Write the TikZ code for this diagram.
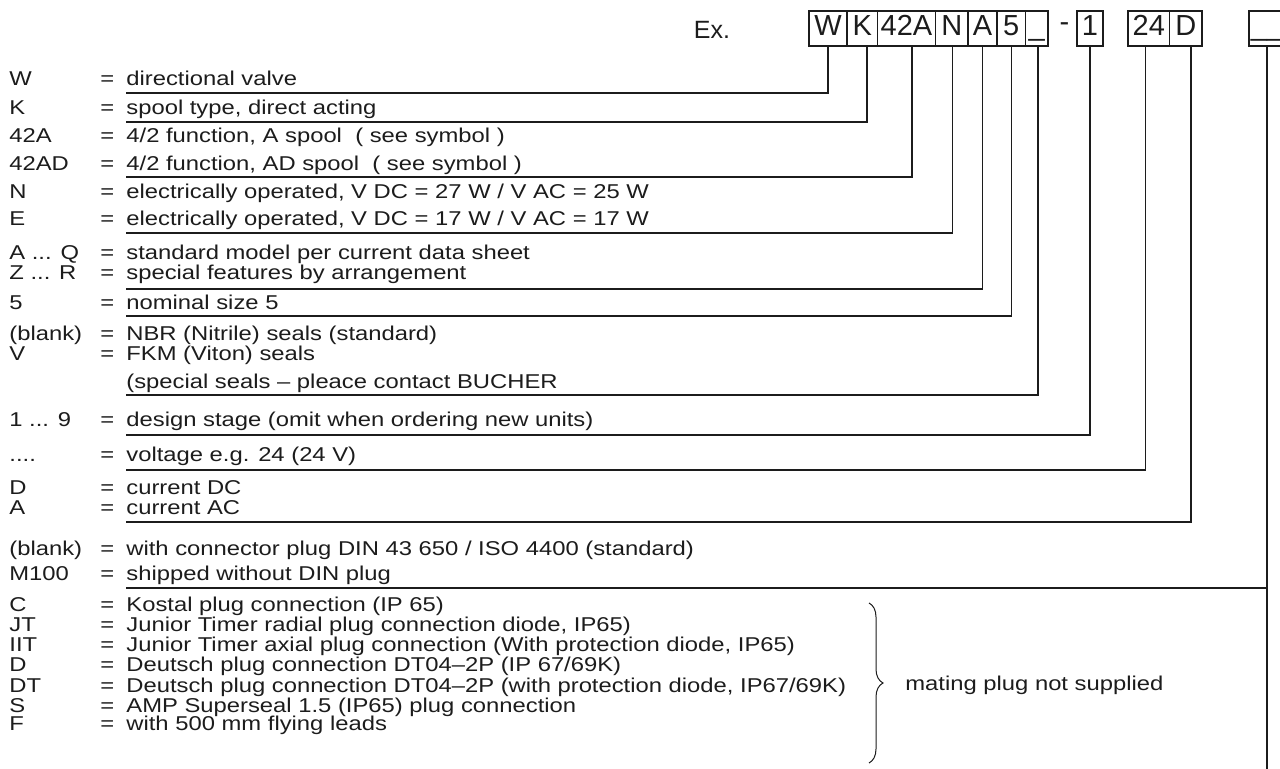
\documentclass[tikz,border=0pt]{standalone}
\usepackage{fontspec}
\setmainfont{Liberation Sans}
\newfontfamily\widesans{Liberation Sans}[FakeStretch=1.19]
\usepackage{xcolor}
\usepackage{tikz}
\usetikzlibrary{positioning,decorations.pathreplacing}
\definecolor{ink}{HTML}{1C1C1C}
\tikzset{
  key/.style={anchor=base west, inner sep=0pt, text=ink,
              font=\widesans\fontsize{10}{12}\selectfont},
  desc/.style={key},
  cell/.style={rectangle, draw=ink, line width=0.6pt, inner sep=0pt, outer sep=0pt,
               minimum height=17.5pt, text height=10.5pt, text depth=3.5pt,
               text=ink, font=\fontsize{14.5}{16}\selectfont},
  lead/.style={draw=ink, line width=0.6pt},
  brc/.style={draw=ink, line width=0.5pt, decorate, decoration={brace, amplitude=7pt}}
}
\newcommand{\entry}[4]{%
  \node[key] (#1k) at (9,#2) {#3};
  \node[key] (#1e) at (100,#2) {=};
  \node[desc] (#1) at (126,#2) {#4};}

\begin{document}
\begin{tikzpicture}[x=0.5pt, y=-0.5pt]
  \useasboundingbox (0,0) rectangle (1280,769);
  % type code
  \node[anchor=base, text=ink, font=\fontsize{12.5}{14}\selectfont] (ex) at (712,39) {Ex.};
  \node[cell, minimum width=19pt] (hW) at (828,28.5) {W};
  \node[cell, minimum width=15.25pt, right=0pt of hW] (hK) {K};
  \node[cell, minimum width=29pt, right=0pt of hK] (hFn) {42A};
  \node[cell, minimum width=16.25pt, right=0pt of hFn] (hN) {N};
  \node[cell, minimum width=14.5pt, right=0pt of hN] (hA) {A};
  \node[cell, minimum width=14.25pt, right=0pt of hA] (hSz) {5};
  \node[cell, minimum width=11.25pt, right=0pt of hSz] (hSl) {\textunderscore};
  \node[anchor=base, text=ink, font=\fontsize{14.5}{16}\selectfont] (dash) at (1064.5,32) {-};
  \node[cell, minimum width=13pt, right=14.5pt of hSl] (hSt) {1};
  \node[cell, minimum width=20.75pt, right=12.5pt of hSt] (hV) {24};
  \node[cell, minimum width=16.25pt, right=0pt of hV] (hD) {D};
  \node[cell, minimum width=18pt, right=23.5pt of hD] (hP) {\textunderscore\textunderscore};

  % entries
  \entry{dW}{86}{W}{directional valve}
  \entry{dK}{115}{K}{spool type, direct acting}
  \entry{dFa}{143}{42A}{4/2 function, A spool\ \ ( see symbol )}
  \entry{dFb}{171}{42AD}{4/2 function, AD spool\ \ ( see symbol )}
  \entry{dN}{199}{N}{electrically operated, V DC = 27 W / V AC = 25 W}
  \entry{dE}{226}{E}{electrically operated, V DC = 17 W / V AC = 17 W}
  \entry{dAQ}{260}{A ... Q}{standard model per current data sheet}
  \entry{dZR}{280}{Z ... R}{special features by arrangement}
  \entry{dSz}{310}{5}{nominal size 5}
  \entry{dNbr}{341}{(blank)}{NBR (Nitrile) seals (standard)}
  \entry{dFkm}{361}{V}{FKM (Viton) seals}
  \node[desc] (dSp) at (126,389) {(special seals – pleace contact BUCHER};
  \entry{dSt}{427}{1 ... 9}{design stage (omit when ordering new units)}
  \entry{dV}{462}{....}{voltage e.g. 24 (24 V)}
  \entry{dDC}{495}{D}{current DC}
  \entry{dAC}{515}{A}{current AC}
  \entry{dDin}{556}{(blank)}{with connector plug DIN 43 650 / ISO 4400 (standard)}
  \entry{dM}{581}{M100}{shipped without DIN plug}
  \entry{dC}{612}{C}{Kostal plug connection (IP 65)}
  \entry{dJT}{632}{JT}{Junior Timer radial plug connection diode, IP65)}
  \entry{dIIT}{652}{IIT}{Junior Timer axial plug connection (With protection diode, IP65)}
  \entry{dDe}{672}{D}{Deutsch plug connection DT04–2P (IP 67/69K)}
  \entry{dDT}{692}{DT}{Deutsch plug connection DT04–2P (with protection diode, IP67/69K)}
  \entry{dS}{712}{S}{AMP Superseal 1.5 (IP65) plug connection}
  \entry{dF}{731}{F}{with 500 mm flying leads}

  % leader ends
  \coordinate (eW) at (126,93);
  \coordinate (eK) at (126,122);
  \coordinate (eFn) at (126,177);
  \coordinate (eN) at (126,233);
  \coordinate (eA) at (126,289);
  \coordinate (eSz) at (126,316);
  \coordinate (eSl) at (126,395);
  \coordinate (eSt) at (126,435);
  \coordinate (eV) at (126,470);
  \coordinate (eD) at (126,522);
  \coordinate (eP) at (126,588);
  \coordinate (bot) at (1267,775);

  \draw[lead] (hW.south) |- (eW);
  \draw[lead] ([xshift=2.4pt]hK.south) |- (eK);
  \draw[lead] ([xshift=2.75pt]hFn.south) |- (eFn);
  \draw[lead] ([xshift=0.5pt]hN.south) |- (eN);
  \draw[lead] (hA.south) |- (eA);
  \draw[lead] (hSz.south) |- (eSz);
  \draw[lead] ([xshift=0.6pt]hSl.south) |- (eSl);
  \draw[lead] (hSt.south) |- (eSt);
  \draw[lead] ([xshift=-1.5pt]hV.south) |- (eV);
  \draw[lead] ([xshift=2.6pt]hD.south) |- (eD);
  \draw[lead] (hP.south) -- (bot);
  \draw[lead] (eP) -- (eP -| hP.south);

  % mating plug group
  \coordinate (bt) at (869,603);
  \coordinate (bb) at (869,763);
  \draw[brc] (bt) -- (bb);
  \node[key, anchor=west] (mate) at (905,685) {mating plug not supplied};
\end{tikzpicture}
\end{document}
